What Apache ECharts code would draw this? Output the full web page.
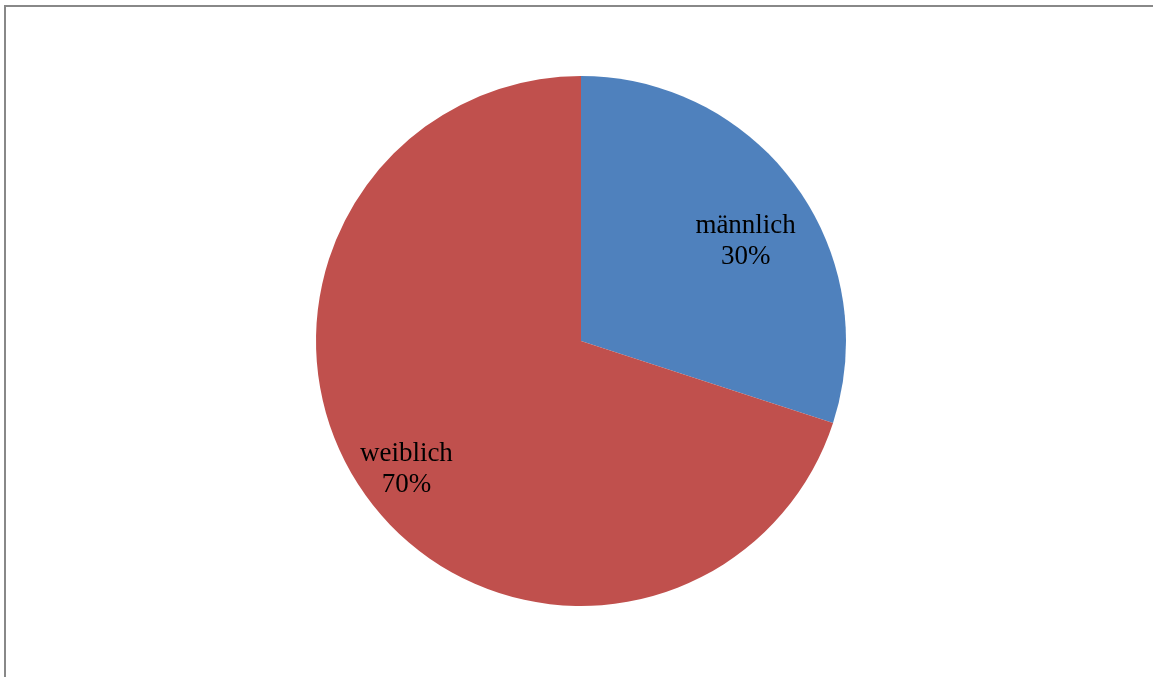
<!DOCTYPE html>
<html>
<head>
<meta charset="utf-8">
<script src="https://cdn.jsdelivr.net/npm/echarts@6/dist/echarts.min.js"></script>
<style>
  html, body { margin: 0; padding: 0; background: #fff; }
  #chart { width: 1153px; height: 677px; }
</style>
</head>
<body>
<div id="chart"></div>
<script>
// Geschlechterverteilung
const categories = ['männlich', 'weiblich'];
const shares = [30, 70];
const sliceColors = ['#4F81BD', '#C0504D'];

// Label nudges (dx, dy) relative to the default inside position
const labelShift = [[55, -20], [-65, 49]];

const chart = echarts.init(document.getElementById('chart'));

chart.setOption({
  animation: false,
  backgroundColor: '#fff',
  graphic: [{
    type: 'rect',
    shape: { x: 5, y: 6, width: 1300, height: 1000 },
    style: { fill: 'none', stroke: '#888888', lineWidth: 2 },
    silent: true
  }],
  series: [{
    type: 'pie',
    center: [581, 341],
    radius: [0, 265],
    startAngle: 90,
    clockwise: true,
    data: categories.map((name, i) => ({
      name,
      value: shares[i],
      itemStyle: { color: sliceColors[i] }
    })),
    itemStyle: { borderWidth: 0 },
    emphasis: { disabled: true },
    label: {
      show: true,
      position: 'inside',
      formatter: p => p.name + '\n' + p.value + '%',
      fontFamily: '"Liberation Serif", "Times New Roman", serif',
      fontSize: 27,
      lineHeight: 31,
      color: '#000',
      align: 'center'
    },
    labelLine: { show: false },
    labelLayout: p => ({ dx: labelShift[p.dataIndex][0], dy: labelShift[p.dataIndex][1] })
  }]
});
</script>
</body>
</html>
